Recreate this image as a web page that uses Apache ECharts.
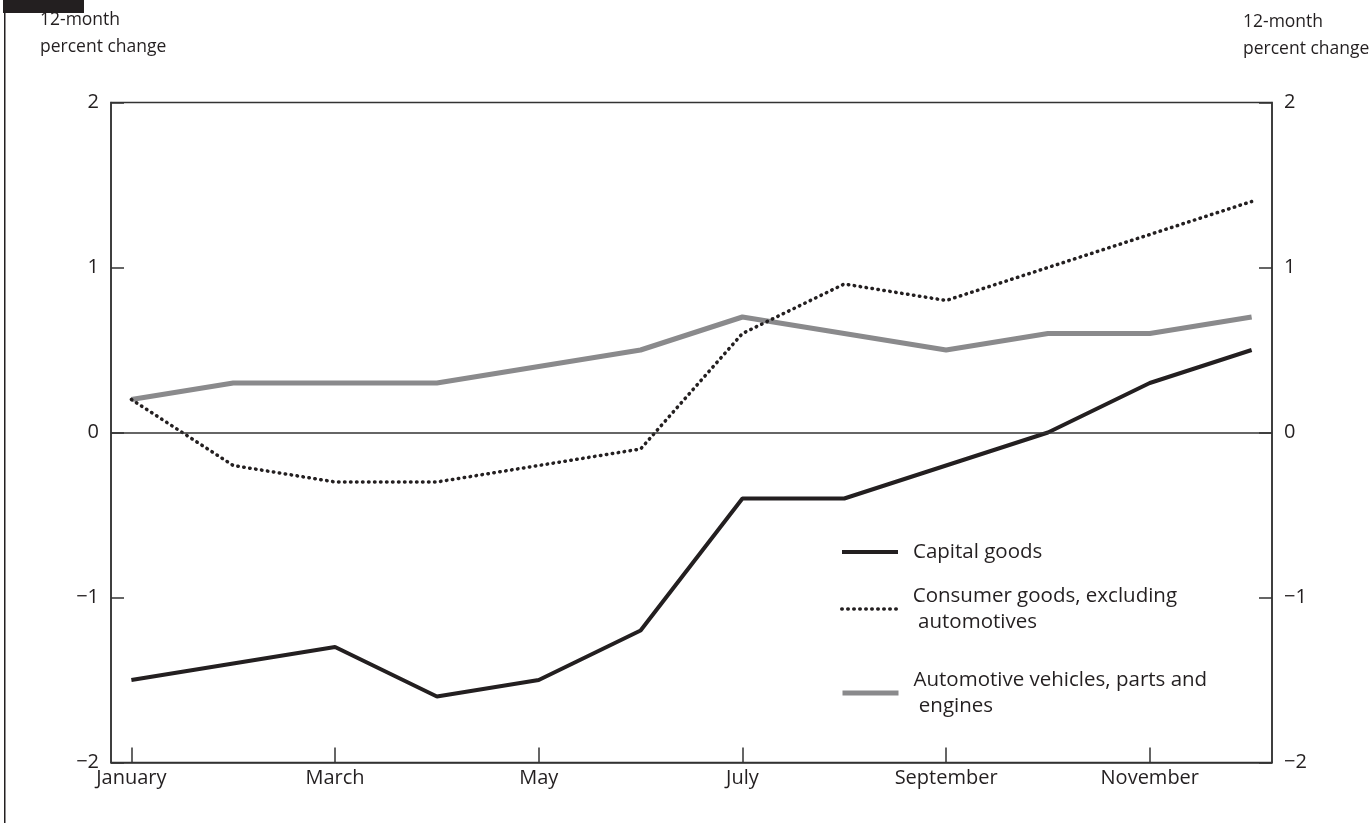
<!DOCTYPE html>
<html>
<head>
<meta charset="utf-8">
<script src="https://cdn.jsdelivr.net/npm/echarts@6/dist/echarts.min.js"></script>
<style>
html,body{margin:0;padding:0;background:#fff;}
#chart{width:1371px;height:823px;}
</style>
</head>
<body>
<div id="chart"></div>
<script>
const months = ['January','February','March','April','May','June','July','August','September','October','November','December'];
const tickMonths = [0, 2, 4, 6, 8, 10];
const yTicks = [-2, -1, 0, 1, 2];
const capitalGoods = [-1.5, -1.4, -1.3, -1.6, -1.5, -1.2, -0.4, -0.4, -0.2, 0.0, 0.3, 0.5];
const consumerGoods = [0.2, -0.2, -0.3, -0.3, -0.2, -0.1, 0.6, 0.9, 0.8, 1.0, 1.2, 1.4];
const automotive = [0.2, 0.3, 0.3, 0.3, 0.4, 0.5, 0.7, 0.6, 0.5, 0.6, 0.6, 0.7];
const seriesNames = ['Capital goods', 'Consumer goods, excluding\n automotives', 'Automotive vehicles, parts and\n engines'];
const axisTitle = '12-month\npercent change';
const zeroLine = 0;

const FONT = 'Open Sans';
const INK = '#231f20';
const GRAY = '#8a8a8c';
const pair = arr => arr.map((v, i) => [i, v]);
const fmtY = v => (v < 0 ? '\u2212' + Math.abs(v) : String(v));

const chart = echarts.init(document.getElementById('chart'), null, {renderer: 'canvas'});

const yAxisBase = {
  type: 'value', min: yTicks[0], max: yTicks[yTicks.length - 1], interval: 1,
  axisLine: {show: true, onZero: false, lineStyle: {color: '#333', width: 1.5}},
  axisTick: {show: true, inside: true, length: 13, lineStyle: {color: '#333', width: 1.5}},
  axisLabel: {formatter: fmtY, color: INK, fontFamily: FONT, fontSize: 20, margin: 12},
  splitLine: {show: false}
};

const capStyle = {color: INK, width: 4};
const conStyle = {color: INK, width: 3.5, type: [0.5, 5.5], cap: 'round'};
const autoStyle = {color: GRAY, width: 5};

const legendBase = {
  orient: 'vertical', left: 840, itemWidth: 56, itemHeight: 14, itemGap: 0, padding: 0,
  selectedMode: false, itemStyle: {opacity: 0},
  textStyle: {color: INK, fontFamily: FONT, fontSize: 20.5, lineHeight: 26, padding: [0, 0, 0, 10]}
};

chart.setOption({
  animation: false,
  backgroundColor: '#fff',
  grid: {left: 111, right: 99, top: 102.5, bottom: 60.5, show: true, borderColor: '#333', borderWidth: 1.5, containLabel: false},
  xAxis: {
    type: 'value', min: -0.2, max: 11.2,
    axisLine: {show: true, onZero: false, lineStyle: {color: '#333', width: 1.5}},
    axisTick: {show: true, inside: true, length: 15, customValues: tickMonths, lineStyle: {color: '#333', width: 1.5}},
    axisLabel: {customValues: tickMonths, formatter: v => months[Math.round(v)], color: INK, fontFamily: FONT, fontSize: 20, margin: 6},
    splitLine: {show: false}
  },
  yAxis: [
    Object.assign({}, yAxisBase, {position: 'left'}),
    Object.assign({}, yAxisBase, {position: 'right'})
  ],
  legend: [
    Object.assign({}, legendBase, {top: 539, data: [seriesNames[0]], lineStyle: capStyle}),
    Object.assign({}, legendBase, {top: 583, data: [seriesNames[1]], lineStyle: conStyle}),
    Object.assign({}, legendBase, {top: 667, data: [seriesNames[2]], lineStyle: autoStyle})
  ],
  graphic: [
    {type: 'rect', shape: {x: 3, y: 0, width: 81, height: 13}, style: {fill: INK}},
    {type: 'rect', shape: {x: 4, y: 13, width: 1.5, height: 810}, style: {fill: INK}},
    {type: 'text', left: 40, top: 7, style: {text: axisTitle, fill: INK, font: '17.5px "' + FONT + '"', lineHeight: 27}},
    {type: 'text', left: 1243, top: 9, style: {text: axisTitle, fill: INK, font: '17.5px "' + FONT + '"', lineHeight: 27}}
  ],
  series: [
    {
      name: seriesNames[2], type: 'line', data: pair(automotive), symbol: 'none', z: 2,
      lineStyle: autoStyle, itemStyle: {color: GRAY}
    },
    {
      name: seriesNames[1], type: 'line', data: pair(consumerGoods), symbol: 'none', z: 3,
      lineStyle: conStyle, itemStyle: {color: INK}
    },
    {
      name: seriesNames[0], type: 'line', data: pair(capitalGoods), symbol: 'none', z: 4,
      lineStyle: capStyle, itemStyle: {color: INK},
      markLine: {silent: true, symbol: 'none', label: {show: false}, lineStyle: {color: '#333', width: 1.5, type: 'solid'}, data: [{yAxis: zeroLine}]}
    }
  ]
});
</script>
</body>
</html>
